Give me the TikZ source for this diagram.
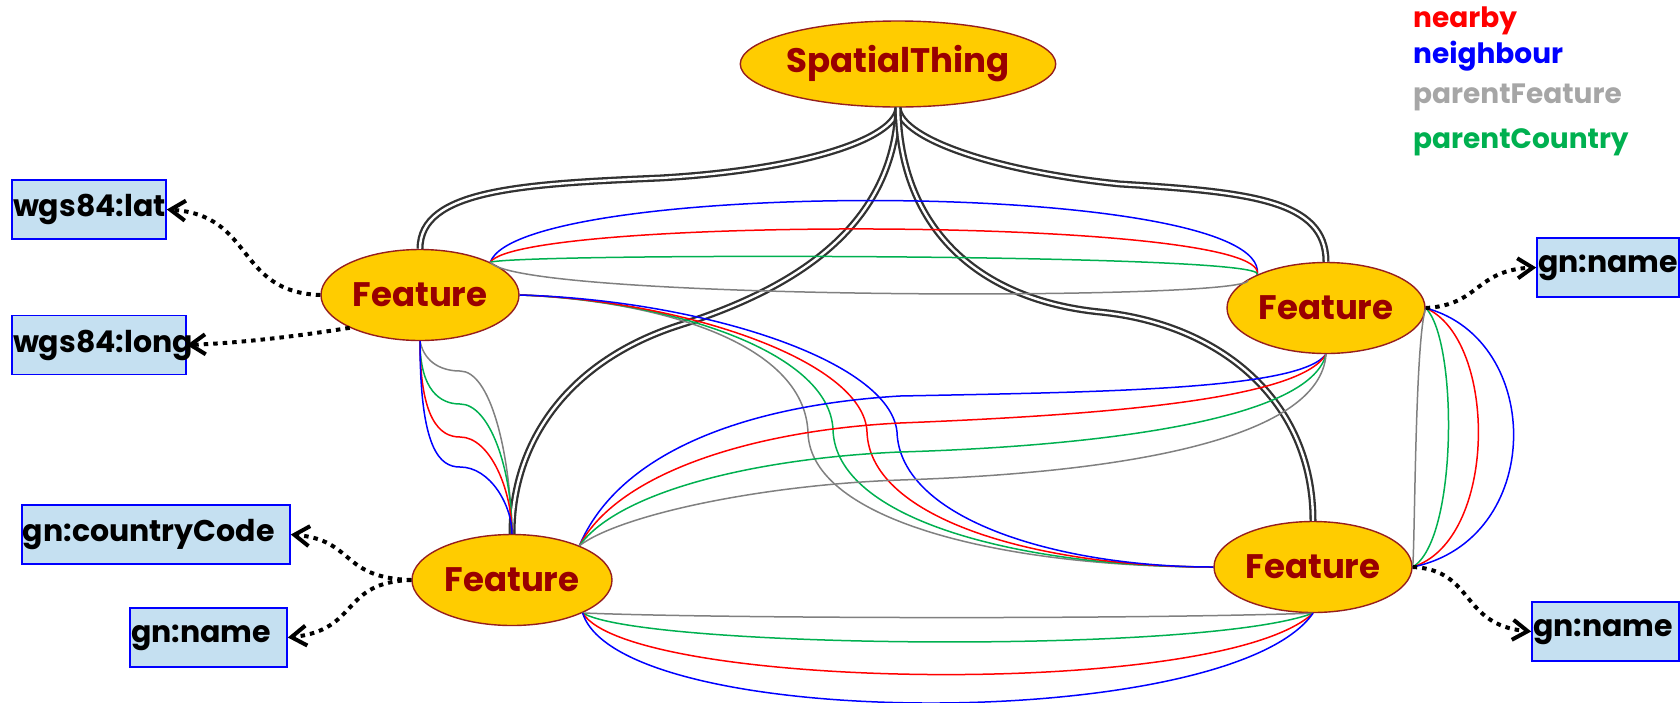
\documentclass[tikz,border=0pt]{standalone}
\usepackage{fontspec}
\setmainfont{Poppins}
\usetikzlibrary{arrows.meta,shapes.geometric}
\definecolor{featfill}{RGB}{255,204,0}
\definecolor{featdraw}{RGB}{150,30,30}
\definecolor{feattext}{RGB}{153,0,0}
\definecolor{boxfill}{RGB}{197,224,241}
\definecolor{relgreen}{RGB}{0,176,80}
\definecolor{relgray}{RGB}{128,128,128}
\definecolor{leggray}{RGB}{166,166,166}
\definecolor{dblcol}{RGB}{50,50,50}
\begin{document}
\begin{tikzpicture}[x=1pt,y=-1pt,
  feat/.style={ellipse, fill=featfill, draw=featdraw, line width=1.4pt, inner sep=0pt,
    minimum width=198pt, minimum height=91pt, text=feattext,
    font=\fontsize{34}{34}\selectfont\bfseries},
  propbox/.style={rectangle, fill=boxfill, draw=blue, line width=1.6pt, inner xsep=1pt,
    inner ysep=0pt, minimum height=59pt, align=left,
    font=\fontsize{30}{34}\selectfont\bfseries},
  legend/.style={anchor=base west, inner sep=0pt, font=\fontsize{28}{28}\selectfont\bfseries},
  subcls/.style={draw=dblcol, line width=2.3pt, double=white, double distance=2.4pt},
  rel/.style={line width=1.5pt},
  nearbyl/.style={rel, draw=red},
  neighl/.style={rel, draw=blue},
  pfeatl/.style={rel, draw=relgray},
  pcountl/.style={rel, draw=relgreen},
  dotarrow/.style={line width=4pt, dash pattern=on 4.5pt off 5pt,
    -{Straight Barb[length=15pt,width=20pt,line width=4pt]}}
]
\useasboundingbox (0,0) rectangle (1680,702);

% main nodes
\node[feat, minimum width=310pt, minimum height=86pt] (st) at (898,64) {SpatialThing};
\node[feat] (tl) at (420,295) {Feature};
\node[feat] (tr) at (1326,308) {Feature};
\node[feat, minimum width=200pt] (bl) at (512,580) {Feature};
\node[feat] (br) at (1313,567) {Feature};

% property boxes
\node[propbox, text width=152pt] (lat) at (89,209.5) {wgs84:lat};
\node[propbox, text width=172pt] (long) at (99,345) {wgs84:long};
\node[propbox, text width=266pt] (cc) at (156,534.5) {gn:countryCode};
\node[propbox, text width=155pt] (nbl) at (208.5,637.5) {gn:name};
\node[propbox, text width=140pt] (ntr) at (1608,267.5) {gn:name};
\node[propbox, text width=145pt] (nbr) at (1605.5,631.5) {gn:name};

% legend
\node[legend, text=red] (lg1) at (1413,27) {nearby};
\node[legend, text=blue] (lg2) at (1413,63) {neighbour};
\node[legend, text=leggray] (lg3) at (1413,103) {parentFeature};
\node[legend, text=relgreen] (lg4) at (1413,148) {parentCountry};

% subclass double lines
\draw[subcls] (st.south) .. controls (895,140) and (800,170) .. (660,178)
   .. controls (520,184) and (420,190) .. (tl.north);
\draw[subcls] (st.south) .. controls (901,140) and (1000,172) .. (1120,184)
   .. controls (1250,192) and (1326,200) .. (tr.north);
\draw[subcls] (st.south) .. controls (893,230) and (790,290) .. (680,325)
   .. controls (570,360) and (512,440) .. (bl.north);
\draw[subcls] (st.south) .. controls (900,230) and (980,300) .. (1100,312)
   .. controls (1220,324) and (1313,400) .. (br.north);

% TL - TR
\draw[neighl]  (tl.25) .. controls (520,178) and (1270,178) .. (tr.154);
\draw[nearbyl] (tl.25) .. controls (520,216) and (1270,216) .. (tr.154);
\draw[pcountl] (tl.25) .. controls (520,253) and (1270,253) .. (tr.154);
\draw[pfeatl]  (tl.25) .. controls (520,301) and (1270,301) .. (tr.160);

% TL - BR
\draw[pfeatl]  (tl.east) .. controls (650,300) and (805,340) .. (808,433)
   .. controls (811,520) and (1000,567) .. (br.west);
\draw[pcountl] (tl.east) .. controls (665,300) and (830,350) .. (833,430)
   .. controls (836,520) and (1020,567) .. (br.west);
\draw[nearbyl] (tl.east) .. controls (680,300) and (864,360) .. (867,432)
   .. controls (870,520) and (1040,567) .. (br.west);
\draw[neighl]  (tl.east) .. controls (700,300) and (890,360) .. (897,432)
   .. controls (900,520) and (1060,567) .. (br.west);

% TL - BL
\draw[pfeatl]  (tl.south) .. controls (425,365) and (445,371) .. (460,371)
   .. controls (490,371) and (510,450) .. (bl.north);
\draw[pcountl] (tl.south) .. controls (420,390) and (440,404) .. (460,404)
   .. controls (490,404) and (512,470) .. (bl.north);
\draw[nearbyl] (tl.south) .. controls (420,420) and (440,437) .. (460,437)
   .. controls (490,437) and (512,490) .. (bl.north);
\draw[neighl]  (tl.south) .. controls (420,450) and (440,467) .. (460,467)
   .. controls (490,467) and (512,505) .. (bl.north);

% BL - TR
\draw[neighl]  (bl.27) .. controls (620,450) and (750,405) .. (900,396)
   .. controls (1100,392) and (1300,390) .. (tr.south);
\draw[nearbyl] (bl.27) .. controls (620,470) and (760,430) .. (900,423)
   .. controls (1100,415) and (1300,400) .. (tr.south);
\draw[pcountl] (bl.27) .. controls (620,490) and (760,458) .. (900,452)
   .. controls (1100,446) and (1310,420) .. (tr.south);
\draw[pfeatl]  (bl.27) .. controls (620,515) and (760,485) .. (900,480)
   .. controls (1120,473) and (1320,440) .. (tr.south);

% BL - BR
\draw[pfeatl]  (bl.335) .. controls (700,618) and (1100,620) .. (br.south);
\draw[pcountl] (bl.335) .. controls (640,648) and (1200,655) .. (br.south);
\draw[nearbyl] (bl.335) .. controls (630,690) and (1220,700) .. (br.south);
\draw[neighl]  (bl.335) .. controls (620,733) and (1230,733) .. (br.south);

% TR - BR
\draw[pfeatl]  (tr.east) .. controls (1415,340) and (1415,540) .. (br.east);
\draw[pcountl] (tr.east) .. controls (1458,340) and (1458,540) .. (br.east);
\draw[nearbyl] (tr.east) .. controls (1498,340) and (1498,540) .. (br.east);
\draw[neighl]  (tr.east) .. controls (1545,340) and (1545,540) .. (br.east);

% property arrows
\draw[dotarrow] (tl.west) .. controls (235,292) and (255,215) .. (lat.east);
\draw[dotarrow] (tl.205) .. controls (300,336) and (240,343) .. (long.east);
\draw[dotarrow] (bl.west) .. controls (340,578) and (355,540) .. (cc.east);
\draw[dotarrow] (bl.west) .. controls (340,582) and (360,630) .. (nbl.east);
\draw[dotarrow] (tr.east) .. controls (1480,305) and (1475,270) .. (ntr.west);
\draw[dotarrow] (br.east) .. controls (1475,570) and (1460,625) .. (nbr.west);
\end{tikzpicture}
\end{document}
